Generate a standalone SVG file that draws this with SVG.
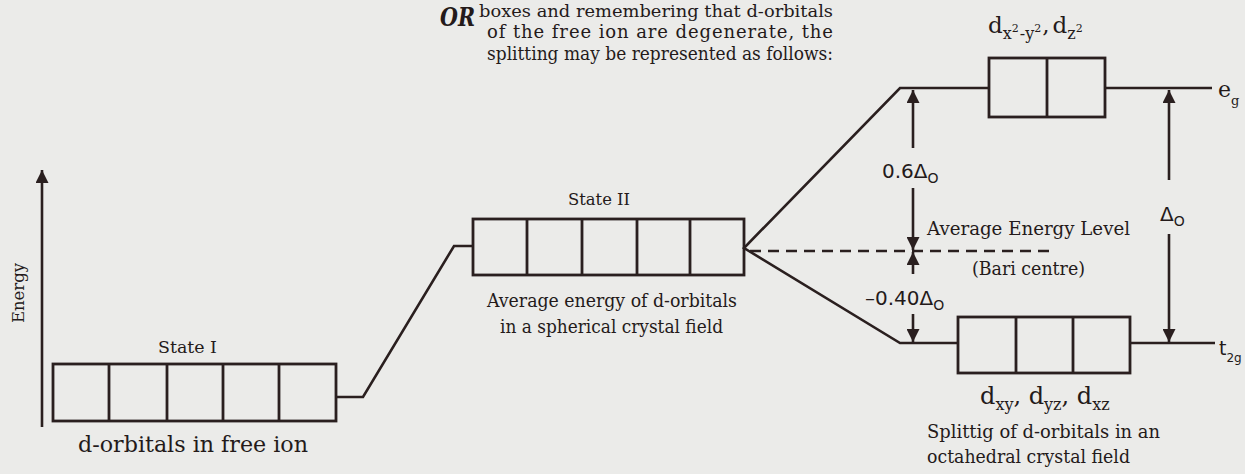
<svg xmlns="http://www.w3.org/2000/svg" width="1245" height="474" viewBox="0 0 1245 474">
<style>
.t{font-family:"DejaVu Serif","Liberation Serif",serif;fill:#241a1a}
.s{font-family:"DejaVu Sans","Liberation Sans",sans-serif;fill:#241a1a}
.ln{stroke:#2a1f1f;stroke-width:2.6;fill:none}
.bx{stroke:#2a1f1f;stroke-width:2.8;fill:none}
.ds{stroke:#2a1f1f;stroke-width:2.4;fill:none;stroke-dasharray:11 7}
</style>
<defs>
<marker id="ah" viewBox="0 0 10 10" refX="10" refY="5" markerWidth="5" markerHeight="5" orient="auto-start-reverse" markerUnits="strokeWidth">
<path d="M0,0 L10,5 L0,10 z" fill="#2a1f1f"/>
</marker>
</defs>
<rect width="1245" height="474" fill="#ebebe9"/>

<g id="intro">
<text class="t" x="440" y="26" font-family="Liberation Serif" font-weight="bold" font-style="italic" font-size="26" textLength="35" lengthAdjust="spacingAndGlyphs">OR</text>
<text class="t" x="479" y="17" font-size="17" textLength="354" lengthAdjust="spacingAndGlyphs">boxes and remembering that d-orbitals</text>
<text class="t" x="487" y="38" font-size="18" textLength="346" lengthAdjust="spacing">of the free ion are degenerate, the</text>
<text class="t" x="487" y="60" font-size="18" textLength="346" lengthAdjust="spacingAndGlyphs">splitting may be represented as follows:</text>
</g>

<g id="energy-axis">
<line class="ln" x1="42" y1="427" x2="42" y2="170" marker-end="url(#ah)"/>
<text class="t" transform="translate(24,293) rotate(-90)" text-anchor="middle" font-size="16.5">Energy</text>
</g>

<g id="state1">
<rect class="bx" x="53" y="364" width="283" height="57"/>
<line class="bx" x1="109" y1="364" x2="109" y2="421"/>
<line class="bx" x1="167" y1="364" x2="167" y2="421"/>
<line class="bx" x1="223" y1="364" x2="223" y2="421"/>
<line class="bx" x1="279" y1="364" x2="279" y2="421"/>
<text class="t" x="158" y="353" font-size="17" textLength="59" lengthAdjust="spacingAndGlyphs">State I</text>
<text class="t" x="78" y="452" font-size="22" textLength="230" lengthAdjust="spacingAndGlyphs">d-orbitals in free ion</text>
</g>

<g id="state2">
<rect class="bx" x="473" y="219" width="271" height="56"/>
<line class="bx" x1="527" y1="219" x2="527" y2="275"/>
<line class="bx" x1="582" y1="219" x2="582" y2="275"/>
<line class="bx" x1="637" y1="219" x2="637" y2="275"/>
<line class="bx" x1="690" y1="219" x2="690" y2="275"/>
<text class="t" x="568" y="205" font-size="17" textLength="62" lengthAdjust="spacingAndGlyphs">State II</text>
<text class="t" x="487" y="307" font-size="18" textLength="250" lengthAdjust="spacingAndGlyphs">Average energy of d-orbitals</text>
<text class="t" x="500" y="333" font-size="18" textLength="223" lengthAdjust="spacingAndGlyphs">in a spherical crystal field</text>
</g>

<g id="eg">
<rect class="bx" x="989" y="58" width="116" height="59"/>
<line class="bx" x1="1047" y1="58" x2="1047" y2="117"/>
<text class="t" x="988" y="33" font-size="23">d<tspan font-size="16" dy="6">x</tspan><tspan font-size="11" dy="-7">2</tspan><tspan font-size="16" dy="7" dx="1">-y</tspan><tspan font-size="11" dy="-7">2</tspan><tspan dy="1" dx="1">,</tspan><tspan dx="3">d</tspan><tspan font-size="16" dy="6">z</tspan><tspan font-size="11" dy="-7">2</tspan></text>
<text class="t" x="1218" y="97" font-size="22">e<tspan font-size="13" dy="8">g</tspan></text>
</g>

<g id="t2g">
<rect class="bx" x="958" y="317" width="172" height="56"/>
<line class="bx" x1="1016" y1="317" x2="1016" y2="373"/>
<line class="bx" x1="1073" y1="317" x2="1073" y2="373"/>
<text class="t" x="980" y="404" font-size="24">d<tspan font-size="16" dy="6">xy</tspan><tspan dy="-6">, d</tspan><tspan font-size="16" dy="6">yz</tspan><tspan dy="-6">, d</tspan><tspan font-size="16" dy="6">xz</tspan></text>
<text class="s" x="1219" y="355" font-size="19">t<tspan font-size="12" dy="7">2g</tspan></text>
<text class="t" x="927" y="438" font-size="18" textLength="233" lengthAdjust="spacingAndGlyphs">Splittig of d-orbitals in an</text>
<text class="t" x="927" y="463" font-size="18" textLength="203" lengthAdjust="spacingAndGlyphs">octahedral crystal field</text>
</g>

<g id="labels">
<text class="s" x="882" y="178" font-size="20">0.6Δ<tspan font-size="14" dy="5">O</tspan></text>
<text class="t" x="927" y="235" font-size="18" textLength="203" lengthAdjust="spacingAndGlyphs">Average Energy Level</text>
<text class="t" x="972" y="275" font-size="18" textLength="113" lengthAdjust="spacingAndGlyphs">(Bari centre)</text>
<text class="s" x="865" y="305" font-size="20">–0.40Δ<tspan font-size="14" dy="5">O</tspan></text>
<text class="s" x="1160" y="221" font-size="20">Δ<tspan font-size="14" dy="5">O</tspan></text>
</g>

<g id="connectors">
<polyline class="ln" points="336,397 363,397 454,246 473,246"/>
<polyline class="ln" points="989,88 900,88 744,248 900,343 958,343"/>
<line class="ln" x1="1105" y1="88" x2="1212" y2="88"/>
<line class="ln" x1="1130" y1="343" x2="1215" y2="343"/>
<line class="ds" x1="750" y1="251" x2="1053" y2="251"/>
<line class="ln" x1="913" y1="148" x2="913" y2="90" marker-end="url(#ah)"/>
<line class="ln" x1="913" y1="188" x2="913" y2="250" marker-end="url(#ah)"/>
<line class="ln" x1="913" y1="274" x2="913" y2="252" marker-end="url(#ah)"/>
<line class="ln" x1="913" y1="314" x2="913" y2="342" marker-end="url(#ah)"/>
<line class="ln" x1="1169" y1="180" x2="1169" y2="90" marker-end="url(#ah)"/>
<line class="ln" x1="1169" y1="234" x2="1169" y2="342" marker-end="url(#ah)"/>
</g>
</svg>
